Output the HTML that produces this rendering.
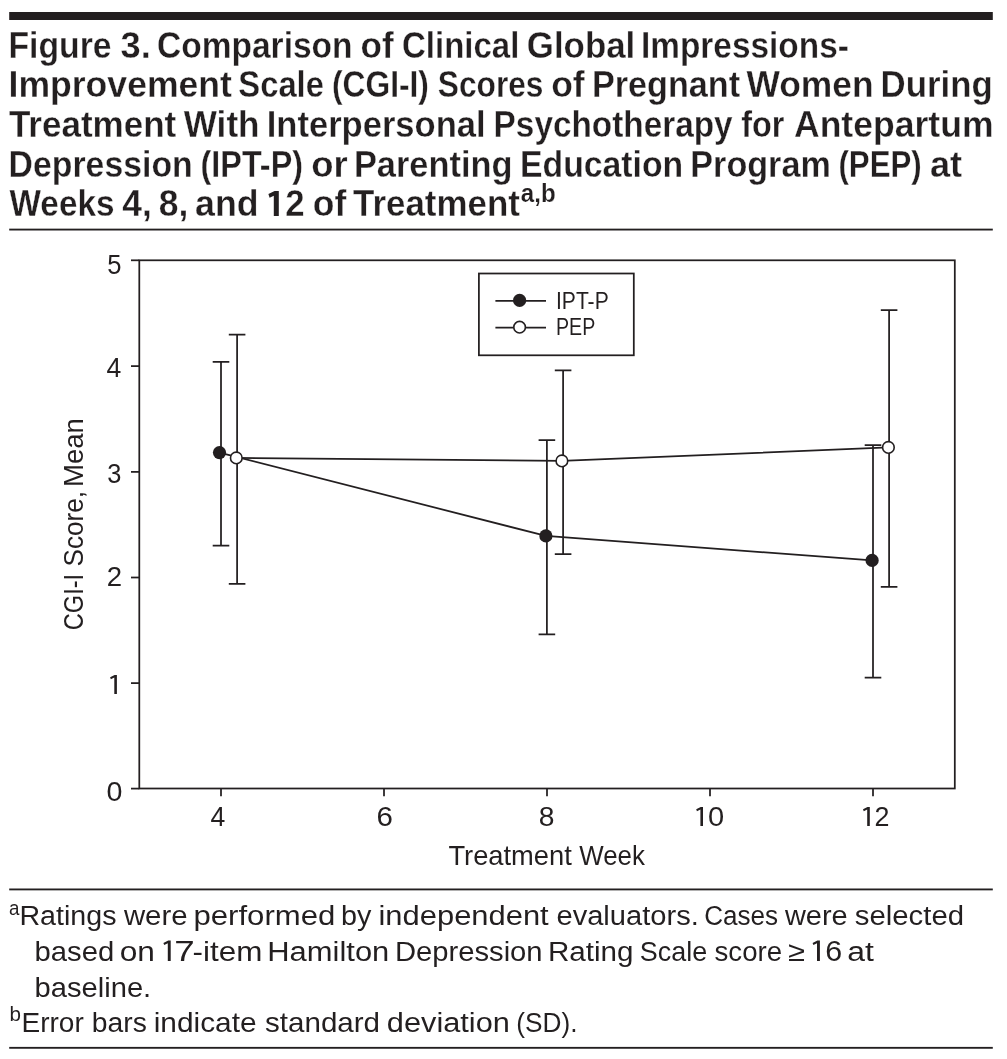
<!DOCTYPE html>
<html><head><meta charset="utf-8"><title>Figure 3</title>
<style>
html,body{margin:0;padding:0;background:#fff;}
body{width:1007px;height:1059px;overflow:hidden;font-family:"Liberation Sans", sans-serif;}
svg{display:block;}
svg text{font-family:"Liberation Sans", sans-serif;fill:#231f20;}
</style></head>
<body>
<svg width="1007" height="1059" viewBox="0 0 1007 1059">
<rect width="1007" height="1059" fill="#fff"/>
<rect x="9.2" y="12" width="983.6" height="8" fill="#231f20"/>
<rect x="9.2" y="228.65" width="983.6" height="1.85" fill="#231f20"/>
<rect x="9.2" y="888.5" width="983.6" height="1.85" fill="#231f20"/>
<rect x="9.2" y="1046.9" width="983.6" height="1.85" fill="#231f20"/>
<g stroke="#231f20" stroke-width="1.75" fill="none">
<rect x="139.3" y="260.3" width="815.5" height="528.2" fill="none"/>
<line x1="131" y1="260.3" x2="139.3" y2="260.3"/>
<line x1="131" y1="366.1" x2="139.3" y2="366.1"/>
<line x1="131" y1="471.9" x2="139.3" y2="471.9"/>
<line x1="131" y1="577.5" x2="139.3" y2="577.5"/>
<line x1="131" y1="683.1" x2="139.3" y2="683.1"/>
<line x1="131" y1="788.6" x2="139.3" y2="788.6"/>
<line x1="221.0" y1="788.5" x2="221.0" y2="796.2"/>
<line x1="384.0" y1="788.5" x2="384.0" y2="796.2"/>
<line x1="547.0" y1="788.5" x2="547.0" y2="796.2"/>
<line x1="710.0" y1="788.5" x2="710.0" y2="796.2"/>
<line x1="873.0" y1="788.5" x2="873.0" y2="796.2"/>
<path d="M212.7 361.9H229.3M212.7 545.7H229.3M221.0 361.9V545.7"/>
<path d="M228.8 334.5H245.4M228.8 583.8H245.4M237.1 334.5V583.8"/>
<path d="M538.6 440.2H555.2M538.6 634.3H555.2M546.9 440.2V634.3"/>
<path d="M554.8 370.3H571.4M554.8 554.1H571.4M563.1 370.3V554.1"/>
<path d="M864.7 445.2H881.3M864.7 677.7H881.3M873.0 445.2V677.7"/>
<path d="M880.8 310.1H897.4M880.8 586.9H897.4M889.1 310.1V586.9"/>
<polyline points="219.5,452.6 545.9,535.9 872.1,560.4" fill="none"/>
<polyline points="236.3,457.9 561.9,460.9 888.4,447.4" fill="none"/>
<rect x="478.9" y="273.5" width="154.9" height="81.8" fill="#fff"/>
<line x1="495.4" y1="300.9" x2="546" y2="300.9"/><line x1="495.4" y1="327.7" x2="546" y2="327.7"/>
</g>
<circle cx="219.5" cy="452.6" r="6.6" fill="#231f20"/>
<circle cx="545.9" cy="535.9" r="6.6" fill="#231f20"/>
<circle cx="872.1" cy="560.4" r="6.6" fill="#231f20"/>
<circle cx="519.6" cy="300.4" r="6.6" fill="#231f20"/>
<circle cx="236.3" cy="457.9" r="5.8" fill="#fff" stroke="#231f20" stroke-width="1.6"/>
<circle cx="561.9" cy="460.9" r="5.8" fill="#fff" stroke="#231f20" stroke-width="1.6"/>
<circle cx="888.4" cy="447.4" r="5.8" fill="#fff" stroke="#231f20" stroke-width="1.6"/>
<circle cx="519.6" cy="327.2" r="5.8" fill="#fff" stroke="#231f20" stroke-width="1.6"/>
<path fill="#231f20" d="M170.7,960.9V940.58H168.23L163.39,942.89L164.20,945.04L167.80,943.32V960.9Z"/>
<path fill="#231f20" d="M819.9,960.9V940.58H817.43L812.59,942.89L813.40,945.04L817.00,943.32V960.9Z"/>
<path fill="#231f20" d="M278.8,215.9V191.0H274.6L268.4,194.0L269.6,197.7L273.8,195.7V215.9Z"/>
<path fill="#231f20" d="M116.9,693.9V675.00H114.60L110.10,677.15L110.85,679.15L114.30,677.55V693.9Z"/>
<path fill="#231f20" d="M703.0,825.9V807.00H700.70L696.20,809.15L696.95,811.15L700.40,809.55V825.9Z"/>
<path fill="#231f20" d="M869.8,825.9V807.00H867.50L863.00,809.15L863.75,811.15L867.20,809.55V825.9Z"/>
<g style="opacity:0.999">
<text transform="translate(8.40,57.6) scale(0.9177,1)" font-size="36.8" font-weight="700" stroke="#fff" stroke-width="0.3">Figure</text>
<text transform="translate(120.50,57.6) scale(0.9868,1)" font-size="36.8" font-weight="700" stroke="#fff" stroke-width="0.3">3.</text>
<text transform="translate(157.00,57.6) scale(0.9112,1)" font-size="36.8" font-weight="700" stroke="#fff" stroke-width="0.3">Comparison</text>
<text transform="translate(360.50,57.6) scale(0.9529,1)" font-size="36.8" font-weight="700" stroke="#fff" stroke-width="0.3">of</text>
<text transform="translate(402.00,57.6) scale(0.8967,1)" font-size="36.8" font-weight="700" stroke="#fff" stroke-width="0.3">Clinical</text>
<text transform="translate(526.80,57.6) scale(0.9479,1)" font-size="36.8" font-weight="700" stroke="#fff" stroke-width="0.3">Global</text>
<text transform="translate(641.00,57.6) scale(0.9080,1)" font-size="36.8" font-weight="700" stroke="#fff" stroke-width="0.3">Impressions-</text>
<text transform="translate(8.50,97.0) scale(0.9674,1)" font-size="36.8" font-weight="700" stroke="#fff" stroke-width="0.3">Improvement</text>
<text transform="translate(238.35,97.0) scale(0.8899,1)" font-size="36.8" font-weight="700" stroke="#fff" stroke-width="0.3">Scale</text>
<text transform="translate(331.95,97.0) scale(0.8632,1)" font-size="36.8" font-weight="700" stroke="#fff" stroke-width="0.3">(CGI-I)</text>
<text transform="translate(437.80,97.0) scale(0.8606,1)" font-size="36.8" font-weight="700" stroke="#fff" stroke-width="0.3">Scores</text>
<text transform="translate(551.20,97.0) scale(0.9632,1)" font-size="36.8" font-weight="700" stroke="#fff" stroke-width="0.3">of</text>
<text transform="translate(591.90,97.0) scale(0.9296,1)" font-size="36.8" font-weight="700" stroke="#fff" stroke-width="0.3">Pregnant</text>
<text transform="translate(746.45,97.0) scale(0.9620,1)" font-size="36.8" font-weight="700" stroke="#fff" stroke-width="0.3">Women</text>
<text transform="translate(880.60,97.0) scale(0.9462,1)" font-size="36.8" font-weight="700" stroke="#fff" stroke-width="0.3">During</text>
<text transform="translate(8.90,136.8) scale(0.9521,1)" font-size="36.8" font-weight="700" stroke="#fff" stroke-width="0.3">Treatment</text>
<text transform="translate(183.75,136.8) scale(0.9555,1)" font-size="36.8" font-weight="700" stroke="#fff" stroke-width="0.3">With</text>
<text transform="translate(266.70,136.8) scale(0.9394,1)" font-size="36.8" font-weight="700" stroke="#fff" stroke-width="0.3">Interpersonal</text>
<text transform="translate(493.60,136.8) scale(0.9061,1)" font-size="36.8" font-weight="700" stroke="#fff" stroke-width="0.3">Psychotherapy</text>
<text transform="translate(741.25,136.8) scale(0.8800,1)" font-size="36.8" font-weight="700" stroke="#fff" stroke-width="0.3">for</text>
<text transform="translate(793.95,136.8) scale(0.9666,1)" font-size="36.8" font-weight="700" stroke="#fff" stroke-width="0.3">Antepartum</text>
<text transform="translate(8.60,176.7) scale(0.9187,1)" font-size="36.8" font-weight="700" stroke="#fff" stroke-width="0.3">Depression</text>
<text transform="translate(200.55,176.7) scale(0.8793,1)" font-size="36.8" font-weight="700" stroke="#fff" stroke-width="0.3">(IPT-P)</text>
<text transform="translate(311.20,176.7) scale(0.9901,1)" font-size="36.8" font-weight="700" stroke="#fff" stroke-width="0.3">or</text>
<text transform="translate(353.90,176.7) scale(0.9347,1)" font-size="36.8" font-weight="700" stroke="#fff" stroke-width="0.3">Parenting</text>
<text transform="translate(520.10,176.7) scale(0.9173,1)" font-size="36.8" font-weight="700" stroke="#fff" stroke-width="0.3">Education</text>
<text transform="translate(690.30,176.7) scale(0.9286,1)" font-size="36.8" font-weight="700" stroke="#fff" stroke-width="0.3">Program</text>
<text transform="translate(838.45,176.7) scale(0.8493,1)" font-size="36.8" font-weight="700" stroke="#fff" stroke-width="0.3">(PEP)</text>
<text transform="translate(929.95,176.7) scale(0.9810,1)" font-size="36.8" font-weight="700" stroke="#fff" stroke-width="0.3">at</text>
<text transform="translate(9.55,215.8) scale(0.9051,1)" font-size="36.8" font-weight="700" stroke="#fff" stroke-width="0.3">Weeks</text>
<text transform="translate(122.25,215.8) scale(0.9642,1)" font-size="36.8" font-weight="700" stroke="#fff" stroke-width="0.3">4,</text>
<text transform="translate(158.75,215.8) scale(0.9636,1)" font-size="36.8" font-weight="700" stroke="#fff" stroke-width="0.3">8,</text>
<text transform="translate(195.05,215.8) scale(0.9705,1)" font-size="36.8" font-weight="700" stroke="#fff" stroke-width="0.3">and</text>
<text transform="translate(285.35,215.8) scale(0.9453,1)" font-size="36.8" font-weight="700" stroke="#fff" stroke-width="0.3">2</text>
<text transform="translate(312.80,215.8) scale(0.9620,1)" font-size="36.8" font-weight="700" stroke="#fff" stroke-width="0.3">of</text>
<text transform="translate(353.00,215.8) scale(0.9493,1)" font-size="36.8" font-weight="700" stroke="#fff" stroke-width="0.3">Treatment</text>
<text transform="translate(520.85,202.4) scale(0.9618,1)" font-size="25" font-weight="700" stroke="#fff" stroke-width="0.15">a,b</text>
<text transform="translate(9.05,914.5) scale(0.9725,1)" font-size="19.3">a</text>
<text transform="translate(9.55,1021.1) scale(1.0682,1)" font-size="19.3">b</text>
<text transform="translate(556.00,308.8) scale(0.8781,1)" font-size="24">IPT-P</text>
<text transform="translate(556.00,334.6) scale(0.8176,1)" font-size="24">PEP</text>
<text transform="translate(210.60,825.9) scale(0.9566,1)" font-size="27.8">4</text>
<text transform="translate(376.40,826.0) scale(1.0611,1)" font-size="27.8">6</text>
<text transform="translate(538.65,826.0) scale(1.0161,1)" font-size="27.8">8</text>
<text transform="translate(708.05,826.0) scale(1.0465,1)" font-size="27.8">0</text>
<text transform="translate(874.55,825.9) scale(0.9684,1)" font-size="27.8">2</text>
<text transform="translate(107.20,274.0) scale(0.9207,1)" font-size="27.8">5</text>
<text transform="translate(106.60,376.8) scale(0.9566,1)" font-size="27.8">4</text>
<text transform="translate(107.20,483.3) scale(0.9143,1)" font-size="27.8">3</text>
<text transform="translate(106.70,585.9) scale(0.9921,1)" font-size="27.8">2</text>
<text transform="translate(106.50,800.8) scale(1.0304,1)" font-size="27.8">0</text>
<text transform="translate(19.45,925.3) scale(1.0296,1)" font-size="27.8">Ratings</text>
<text transform="translate(123.90,925.3) scale(1.0562,1)" font-size="27.8">were</text>
<text transform="translate(193.50,925.3) scale(1.1198,1)" font-size="27.8">performed</text>
<text transform="translate(340.95,925.3) scale(1.0360,1)" font-size="27.8">by</text>
<text transform="translate(378.50,925.3) scale(1.1126,1)" font-size="27.8">independent</text>
<text transform="translate(556.45,925.3) scale(1.0470,1)" font-size="27.8">evaluators.</text>
<text transform="translate(704.25,925.3) scale(0.9377,1)" font-size="27.8">Cases</text>
<text transform="translate(784.90,925.3) scale(1.0413,1)" font-size="27.8">were</text>
<text transform="translate(854.80,925.3) scale(1.0553,1)" font-size="27.8">selected</text>
<text transform="translate(34.60,960.7) scale(1.0525,1)" font-size="27.8">based</text>
<text transform="translate(119.75,960.7) scale(1.1388,1)" font-size="27.8">on</text>
<text transform="translate(192.60,960.7) scale(1.1292,1)" font-size="27.8">-item</text>
<text transform="translate(267.30,960.7) scale(1.1124,1)" font-size="27.8">Hamilton</text>
<text transform="translate(394.90,960.7) scale(1.0511,1)" font-size="27.8">Depression</text>
<text transform="translate(548.00,960.7) scale(1.0646,1)" font-size="27.8">Rating</text>
<text transform="translate(639.75,960.7) scale(0.9691,1)" font-size="27.8">Scale</text>
<text transform="translate(714.55,960.7) scale(0.9937,1)" font-size="27.8">score</text>
<text transform="translate(787.90,960.7) scale(1.1096,1)" font-size="27.8">≥</text>
<text transform="translate(847.35,960.7) scale(1.1476,1)" font-size="27.8">at</text>
<text transform="translate(174.20,960.9) scale(1.2413,1)" font-size="29.6">7</text>
<text transform="translate(825.20,960.9) scale(1.0286,1)" font-size="29.6">6</text>
<text transform="translate(34.60,996.5) scale(1.0477,1)" font-size="27.8">baseline.</text>
<text transform="translate(21.45,1031.7) scale(1.0083,1)" font-size="27.8">Error</text>
<text transform="translate(91.85,1031.7) scale(1.0171,1)" font-size="27.8">bars</text>
<text transform="translate(153.70,1031.7) scale(1.0745,1)" font-size="27.8">indicate</text>
<text transform="translate(265.00,1031.7) scale(1.0642,1)" font-size="27.8">standard</text>
<text transform="translate(386.85,1031.7) scale(1.1061,1)" font-size="27.8">deviation</text>
<text transform="translate(516.35,1031.7) scale(0.9437,1)" font-size="27.8">(SD).</text>
<text transform="translate(448.40,864.9) scale(0.9654,1)" font-size="28.3">Treatment</text>
<text transform="translate(579.25,864.9) scale(0.9147,1)" font-size="28.3">Week</text>
<text transform="translate(83.0,630.25) rotate(-90) scale(0.8435,1)" font-size="28">CGI-I</text>
<text transform="translate(83.0,566.45) rotate(-90) scale(0.9343,1)" font-size="28">Score,</text>
<text transform="translate(83.0,487.05) rotate(-90) scale(0.9840,1)" font-size="28">Mean</text>
</g>
</svg>
</body></html>
